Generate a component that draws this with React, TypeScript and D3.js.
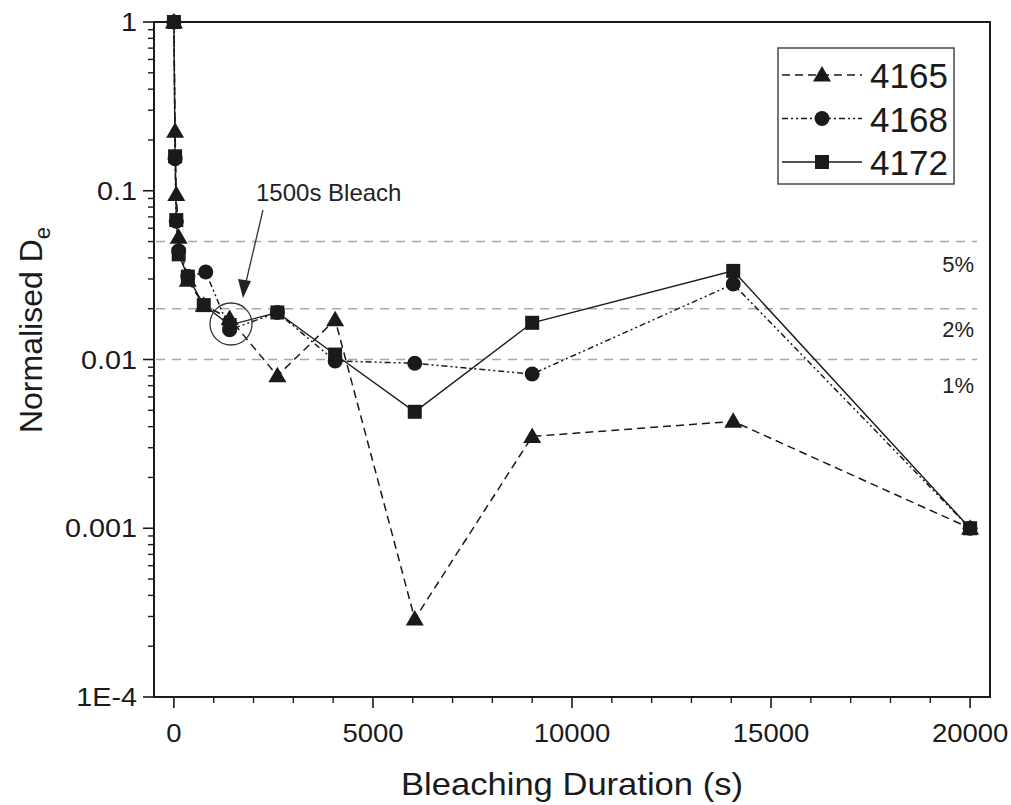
import React from "react";
import * as d3 from "d3";

const seriesNames = ["4165", "4168", "4172"];
const x4165 = [0, 30, 60, 120, 350, 750, 1400, 2600, 4050, 6050, 9000, 14050, 20000];
const y4165 = [1, 0.225, 0.095, 0.053, 0.0295, 0.021, 0.0175, 0.008, 0.0172, 0.00029, 0.0035, 0.0043, 0.001];
const x4168 = [0, 30, 60, 120, 350, 800, 1400, 2600, 4050, 6050, 9000, 14050, 20000];
const y4168 = [1, 0.155, 0.066, 0.044, 0.031, 0.033, 0.015, 0.019, 0.0098, 0.0095, 0.0082, 0.028, 0.001];
const x4172 = [0, 30, 60, 120, 350, 750, 1400, 2600, 4050, 6050, 9000, 14050, 20000];
const y4172 = [1, 0.16, 0.067, 0.042, 0.031, 0.021, 0.016, 0.019, 0.0107, 0.0049, 0.0165, 0.0335, 0.001];

const xMajorTicks = [0, 5000, 10000, 15000, 20000];
const yMajorTicks = [1e-4, 1e-3, 1e-2, 1e-1, 1];
const yTickLabels = ["1E-4", "0.001", "0.01", "0.1", "1"];
const refLines = [0.05, 0.02, 0.01];
const refLabels = ["5%", "2%", "1%"];

const W = 1011, H = 805;
const L = 154, R = 990, T = 22, B = 697;

export default function App() {
  const x = d3.scaleLinear().domain([-500, 20500]).range([L, R]);
  const y = d3.scaleLog().domain([1e-4, 1]).range([B, T]);
  const line = d3.line<[number, number]>().x(d => x(d[0])).y(d => y(d[1]));
  const zip = (xs: number[], ys: number[]) => xs.map((v, i) => [v, ys[i]] as [number, number]);
  const s65 = zip(x4165, y4165);
  const s68 = zip(x4168, y4168);
  const s72 = zip(x4172, y4172);

  const xMinor = d3.range(1000, 20000, 1000).filter(v => v % 5000 !== 0);
  const yMinor: number[] = [];
  for (let e = -4; e < 0; e++) for (let k = 2; k <= 9; k++) yMinor.push(k * Math.pow(10, e));

  const font = '"Liberation Sans", Arial, sans-serif';
  const ink = "#1a1a1a";

  const tri = (cx: number, cy: number, key: string) => (
    <path key={key} d={`M${cx},${cy - 9} L${cx + 9},${cy + 6.5} L${cx - 9},${cy + 6.5} Z`} fill={ink} />
  );
  const sq = (cx: number, cy: number, key: string) => (
    <rect key={key} x={cx - 7} y={cy - 7} width={14} height={14} fill={ink} />
  );
  const circ = (cx: number, cy: number, key: string) => (
    <circle key={key} cx={cx} cy={cy} r={7.5} fill={ink} />
  );

  const dash65 = "8,5";
  const dash68 = "6,3,2,3,2,3";

  const legendX = 778, legendY = 48, legendW = 176, legendH = 136;
  const legendRows = [
    { name: seriesNames[0], dash: dash65, mk: tri },
    { name: seriesNames[1], dash: dash68, mk: circ },
    { name: seriesNames[2], dash: "", mk: sq },
  ];

  return (
    <svg width={W} height={H} style={{ position: "absolute", left: 0, top: 0, background: "#fff", fontFamily: font }}>
      <rect x={0} y={0} width={W} height={H} fill="#fff" />
      {/* reference lines */}
      {refLines.map((v, i) => (
        <g key={"ref" + i}>
          <line x1={L + 2} x2={977} y1={y(v)} y2={y(v)} stroke="#a8a8a8" strokeWidth={1.6} strokeDasharray="9,7" />
          <text x={974} y={y(v) + [30, 28, 33][i]} textAnchor="end" fontSize={22} fill="#222" style={{ fontFamily: font }}>{refLabels[i]}</text>
        </g>
      ))}

      {/* series lines */}
      <path d={line(s65) || ""} fill="none" stroke={ink} strokeWidth={1.5} strokeDasharray={dash65} />
      <path d={line(s68) || ""} fill="none" stroke={ink} strokeWidth={1.5} strokeDasharray={dash68} />
      <path d={line(s72) || ""} fill="none" stroke={ink} strokeWidth={1.4} />
      {s65.map((d, i) => tri(x(d[0]), y(d[1]), "t" + i))}
      {s68.map((d, i) => circ(x(d[0]), y(d[1]), "c" + i))}
      {s72.map((d, i) => sq(x(d[0]), y(d[1]), "s" + i))}

      {/* annotation */}
      <circle cx={231} cy={324} r={21} fill="none" stroke="#333" strokeWidth={1.3} />
      <line x1={263} y1={210} x2={246} y2={282} stroke="#333" strokeWidth={1.3} />
      <path d="M243,298 L238,279 L251,281 Z" fill="#222" />
      <text x={256} y={201} fontSize={24} fill="#222" style={{ fontFamily: font }}>1500s Bleach</text>

      {/* frame */}
      <rect x={L} y={T} width={R - L} height={B - T} fill="none" stroke={ink} strokeWidth={2} />

      {/* x ticks */}
      {xMajorTicks.map(v => (
        <g key={"xm" + v}>
          <line x1={x(v)} x2={x(v)} y1={B} y2={B + 11} stroke={ink} strokeWidth={1.6} />
          <text transform={`translate(${x(v)},${B + 45}) scale(1.1,1)`} textAnchor="middle" fontSize={25} fill={ink} style={{ fontFamily: font }}>{v}</text>
        </g>
      ))}
      {xMinor.map(v => (
        <line key={"xn" + v} x1={x(v)} x2={x(v)} y1={B} y2={B + 6} stroke={ink} strokeWidth={1.4} />
      ))}

      {/* y ticks */}
      {yMajorTicks.map((v, i) => (
        <g key={"ym" + i}>
          <line x1={L - 11} x2={L} y1={y(v)} y2={y(v)} stroke={ink} strokeWidth={1.6} />
          <text transform={`translate(${L - 17},${y(v) + 9}) scale(1.15,1)`} textAnchor="end" fontSize={25} fill={ink} style={{ fontFamily: font }}>{yTickLabels[i]}</text>
        </g>
      ))}
      {yMinor.map((v, i) => (
        <line key={"yn" + i} x1={L - 6} x2={L} y1={y(v)} y2={y(v)} stroke={ink} strokeWidth={1.4} />
      ))}

      {/* axis titles */}
      <text transform={`translate(${(L + R) / 2},${795}) scale(1.08,1)`} textAnchor="middle" fontSize={32} fill={ink} style={{ fontFamily: font }}>Bleaching Duration (s)</text>
      <text transform={`translate(42,330) rotate(-90)`} textAnchor="middle" fontSize={32} fill={ink} style={{ fontFamily: font }}>
        Normalised D<tspan fontSize={22} dy={8}>e</tspan>
      </text>

      {/* legend */}
      <rect x={legendX} y={legendY} width={legendW} height={legendH} fill="#fff" stroke="#555" strokeWidth={1.6} />
      {legendRows.map((r, i) => {
        const cy = legendY + 27 + i * 43.5;
        return (
          <g key={"lg" + i}>
            <line x1={legendX + 4} x2={legendX + 84} y1={cy} y2={cy} stroke={ink} strokeWidth={1.5} strokeDasharray={r.dash || undefined} />
            {r.mk(legendX + 44, cy, "lm" + i)}
            <text x={legendX + 92} y={cy + 13} fontSize={35} fill={ink} style={{ fontFamily: font }}>{r.name}</text>
          </g>
        );
      })}
    </svg>
  );
}
